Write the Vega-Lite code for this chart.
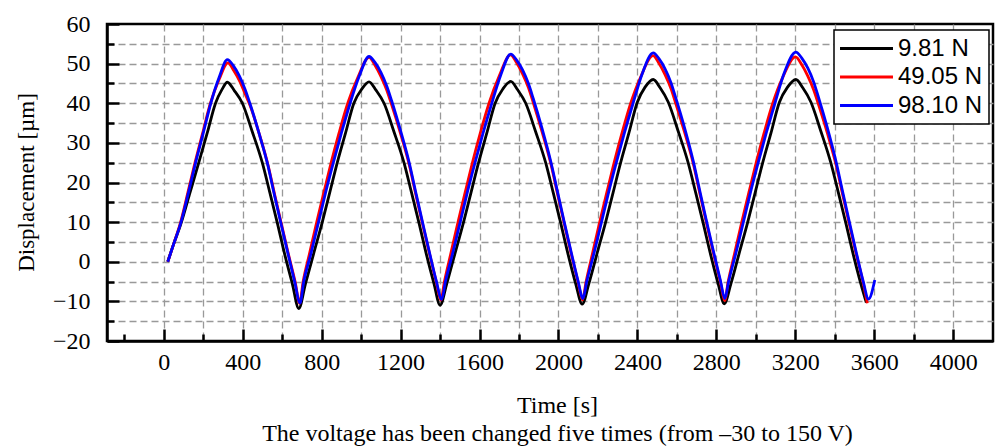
{
  "$schema": "https://vega.github.io/schema/vega-lite/v6.json",
  "width": 886,
  "height": 317,
  "autosize": {"type": "none"},
  "padding": {"left": 107, "top": 24, "right": 4, "bottom": 105},
  "background": "white",
  "config": {
    "view": {"stroke": "black", "strokeWidth": 2.5},
    "font": "Liberation Serif",
    "legend": {"strokeWidth": 1.5}
  },
  "data": {"values": [
    {"s":"9.81 N","t":20,"v":0},{"s":"9.81 N","t":50,"v":4.5},{"s":"9.81 N","t":86,"v":9.5},{"s":"9.81 N","t":130,"v":17},{"s":"9.81 N","t":177,"v":25},{"s":"9.81 N","t":220,"v":32.5},{"s":"9.81 N","t":262,"v":40},{"s":"9.81 N","t":295,"v":43.5},{"s":"9.81 N","t":322,"v":45.3},
    {"s":"9.81 N","t":357,"v":43.2},{"s":"9.81 N","t":398,"v":40},{"s":"9.81 N","t":447,"v":33},{"s":"9.81 N","t":499,"v":25},{"s":"9.81 N","t":537,"v":17.5},{"s":"9.81 N","t":575,"v":9.8},{"s":"9.81 N","t":612,"v":2},{"s":"9.81 N","t":651,"v":-5.5},{"s":"9.81 N","t":684,"v":-11.8},
    {"s":"9.81 N","t":718,"v":-5.5},{"s":"9.81 N","t":759,"v":2},{"s":"9.81 N","t":802,"v":9.8},{"s":"9.81 N","t":841,"v":17.5},{"s":"9.81 N","t":879,"v":25},{"s":"9.81 N","t":921,"v":32.5},{"s":"9.81 N","t":963,"v":40},{"s":"9.81 N","t":1002,"v":43.5},{"s":"9.81 N","t":1040,"v":45.4},
    {"s":"9.81 N","t":1075,"v":43.3},{"s":"9.81 N","t":1116,"v":40},{"s":"9.81 N","t":1165,"v":33},{"s":"9.81 N","t":1217,"v":25},{"s":"9.81 N","t":1255,"v":17.5},{"s":"9.81 N","t":1293,"v":9.8},{"s":"9.81 N","t":1330,"v":2},{"s":"9.81 N","t":1369,"v":-5.5},{"s":"9.81 N","t":1400,"v":-11},
    {"s":"9.81 N","t":1434,"v":-5.5},{"s":"9.81 N","t":1475,"v":2},{"s":"9.81 N","t":1518,"v":9.8},{"s":"9.81 N","t":1557,"v":17.5},{"s":"9.81 N","t":1595,"v":25},{"s":"9.81 N","t":1637,"v":32.5},{"s":"9.81 N","t":1679,"v":40},{"s":"9.81 N","t":1718,"v":43.6},{"s":"9.81 N","t":1758,"v":45.5},
    {"s":"9.81 N","t":1793,"v":43.4},{"s":"9.81 N","t":1834,"v":40},{"s":"9.81 N","t":1883,"v":33},{"s":"9.81 N","t":1935,"v":25},{"s":"9.81 N","t":1973,"v":17.5},{"s":"9.81 N","t":2011,"v":9.8},{"s":"9.81 N","t":2048,"v":2},{"s":"9.81 N","t":2087,"v":-5.5},{"s":"9.81 N","t":2120,"v":-10.7},
    {"s":"9.81 N","t":2154,"v":-5.5},{"s":"9.81 N","t":2195,"v":2},{"s":"9.81 N","t":2238,"v":9.8},{"s":"9.81 N","t":2277,"v":17.5},{"s":"9.81 N","t":2315,"v":25},{"s":"9.81 N","t":2357,"v":32.5},{"s":"9.81 N","t":2399,"v":40.2},{"s":"9.81 N","t":2438,"v":44},{"s":"9.81 N","t":2480,"v":46},
    {"s":"9.81 N","t":2515,"v":43.9},{"s":"9.81 N","t":2556,"v":40.3},{"s":"9.81 N","t":2605,"v":33.2},{"s":"9.81 N","t":2657,"v":25},{"s":"9.81 N","t":2695,"v":17.5},{"s":"9.81 N","t":2733,"v":9.8},{"s":"9.81 N","t":2770,"v":2},{"s":"9.81 N","t":2809,"v":-5.5},{"s":"9.81 N","t":2840,"v":-10.6},
    {"s":"9.81 N","t":2874,"v":-5.5},{"s":"9.81 N","t":2915,"v":2},{"s":"9.81 N","t":2958,"v":9.8},{"s":"9.81 N","t":2997,"v":17.5},{"s":"9.81 N","t":3035,"v":25},{"s":"9.81 N","t":3077,"v":32.5},{"s":"9.81 N","t":3119,"v":40.2},{"s":"9.81 N","t":3160,"v":44},{"s":"9.81 N","t":3203,"v":46},
    {"s":"9.81 N","t":3238,"v":43.9},{"s":"9.81 N","t":3279,"v":40.3},{"s":"9.81 N","t":3328,"v":33.2},{"s":"9.81 N","t":3380,"v":25},{"s":"9.81 N","t":3418,"v":17.5},{"s":"9.81 N","t":3456,"v":9.8},{"s":"9.81 N","t":3493,"v":2},{"s":"9.81 N","t":3532,"v":-5.5},{"s":"9.81 N","t":3560,"v":-10.3},

    {"s":"49.05 N","t":20,"v":0},{"s":"49.05 N","t":30,"v":1.5},{"s":"49.05 N","t":50,"v":4.5},{"s":"49.05 N","t":84,"v":9.8},{"s":"49.05 N","t":122,"v":17.5},{"s":"49.05 N","t":158,"v":25},{"s":"49.05 N","t":197,"v":32.5},{"s":"49.05 N","t":236,"v":40},{"s":"49.05 N","t":280,"v":46},{"s":"49.05 N","t":325,"v":50.2},
    {"s":"49.05 N","t":355,"v":48.2},{"s":"49.05 N","t":385,"v":45.5},{"s":"49.05 N","t":415,"v":42},{"s":"49.05 N","t":439,"v":39.2},{"s":"49.05 N","t":485,"v":32},{"s":"49.05 N","t":527,"v":24.6},{"s":"49.05 N","t":565,"v":16.2},{"s":"49.05 N","t":595,"v":9.7},{"s":"49.05 N","t":630,"v":2.2},{"s":"49.05 N","t":666,"v":-5.2},{"s":"49.05 N","t":688,"v":-10.5},
    {"s":"49.05 N","t":706,"v":-5},{"s":"49.05 N","t":738,"v":2},{"s":"49.05 N","t":774,"v":9.8},{"s":"49.05 N","t":811,"v":17.5},{"s":"49.05 N","t":848,"v":25},{"s":"49.05 N","t":888,"v":32.5},{"s":"49.05 N","t":932,"v":40},{"s":"49.05 N","t":983,"v":46.5},{"s":"49.05 N","t":1040,"v":51.6},
    {"s":"49.05 N","t":1070,"v":49.6},{"s":"49.05 N","t":1100,"v":46.8},{"s":"49.05 N","t":1130,"v":43.3},{"s":"49.05 N","t":1154,"v":39.7},{"s":"49.05 N","t":1200,"v":32.3},{"s":"49.05 N","t":1242,"v":24.8},{"s":"49.05 N","t":1280,"v":16.3},{"s":"49.05 N","t":1310,"v":9.8},{"s":"49.05 N","t":1345,"v":2.3},{"s":"49.05 N","t":1381,"v":-5.2},{"s":"49.05 N","t":1404,"v":-9.7},
    {"s":"49.05 N","t":1422,"v":-5},{"s":"49.05 N","t":1454,"v":2},{"s":"49.05 N","t":1490,"v":9.8},{"s":"49.05 N","t":1527,"v":17.5},{"s":"49.05 N","t":1564,"v":25},{"s":"49.05 N","t":1604,"v":32.5},{"s":"49.05 N","t":1648,"v":40},{"s":"49.05 N","t":1699,"v":46.8},{"s":"49.05 N","t":1757,"v":52.2},
    {"s":"49.05 N","t":1788,"v":50.2},{"s":"49.05 N","t":1818,"v":47.4},{"s":"49.05 N","t":1848,"v":43.9},{"s":"49.05 N","t":1872,"v":40.2},{"s":"49.05 N","t":1918,"v":32.6},{"s":"49.05 N","t":1960,"v":25},{"s":"49.05 N","t":1998,"v":16.5},{"s":"49.05 N","t":2028,"v":9.9},{"s":"49.05 N","t":2063,"v":2.3},{"s":"49.05 N","t":2099,"v":-5.1},{"s":"49.05 N","t":2122,"v":-9.6},
    {"s":"49.05 N","t":2140,"v":-5},{"s":"49.05 N","t":2172,"v":2},{"s":"49.05 N","t":2208,"v":9.8},{"s":"49.05 N","t":2245,"v":17.5},{"s":"49.05 N","t":2282,"v":25},{"s":"49.05 N","t":2322,"v":32.5},{"s":"49.05 N","t":2366,"v":40},{"s":"49.05 N","t":2417,"v":46.7},{"s":"49.05 N","t":2479,"v":52},
    {"s":"49.05 N","t":2510,"v":50},{"s":"49.05 N","t":2540,"v":47.2},{"s":"49.05 N","t":2570,"v":43.7},{"s":"49.05 N","t":2594,"v":40},{"s":"49.05 N","t":2640,"v":32.5},{"s":"49.05 N","t":2682,"v":25},{"s":"49.05 N","t":2720,"v":16.4},{"s":"49.05 N","t":2750,"v":9.8},{"s":"49.05 N","t":2785,"v":2.2},{"s":"49.05 N","t":2821,"v":-5.2},{"s":"49.05 N","t":2842,"v":-9.8},
    {"s":"49.05 N","t":2860,"v":-5},{"s":"49.05 N","t":2892,"v":2},{"s":"49.05 N","t":2928,"v":9.8},{"s":"49.05 N","t":2965,"v":17.5},{"s":"49.05 N","t":3002,"v":25},{"s":"49.05 N","t":3042,"v":32.5},{"s":"49.05 N","t":3086,"v":40},{"s":"49.05 N","t":3137,"v":46.6},{"s":"49.05 N","t":3201,"v":51.7},
    {"s":"49.05 N","t":3233,"v":49.7},{"s":"49.05 N","t":3263,"v":46.9},{"s":"49.05 N","t":3293,"v":43.4},{"s":"49.05 N","t":3317,"v":39.8},{"s":"49.05 N","t":3363,"v":32.4},{"s":"49.05 N","t":3405,"v":24.8},{"s":"49.05 N","t":3443,"v":16.3},{"s":"49.05 N","t":3473,"v":9.7},{"s":"49.05 N","t":3508,"v":2.1},{"s":"49.05 N","t":3544,"v":-5.3},{"s":"49.05 N","t":3565,"v":-10.5},

    {"s":"98.10 N","t":20,"v":0},{"s":"98.10 N","t":30,"v":1.5},{"s":"98.10 N","t":50,"v":4.5},{"s":"98.10 N","t":86,"v":9.8},{"s":"98.10 N","t":125,"v":17.5},{"s":"98.10 N","t":161,"v":25},{"s":"98.10 N","t":200,"v":32.5},{"s":"98.10 N","t":238,"v":40},{"s":"98.10 N","t":280,"v":46.5},{"s":"98.10 N","t":322,"v":51},
    {"s":"98.10 N","t":352,"v":49.5},{"s":"98.10 N","t":382,"v":47},{"s":"98.10 N","t":412,"v":43.5},{"s":"98.10 N","t":436,"v":40},{"s":"98.10 N","t":482,"v":32.5},{"s":"98.10 N","t":524,"v":25},{"s":"98.10 N","t":562,"v":16.5},{"s":"98.10 N","t":592,"v":10},{"s":"98.10 N","t":627,"v":2.5},{"s":"98.10 N","t":663,"v":-5},{"s":"98.10 N","t":690,"v":-10.4},
    {"s":"98.10 N","t":709,"v":-5},{"s":"98.10 N","t":745,"v":2},{"s":"98.10 N","t":783,"v":9.8},{"s":"98.10 N","t":820,"v":17.5},{"s":"98.10 N","t":859,"v":25},{"s":"98.10 N","t":900,"v":32.5},{"s":"98.10 N","t":944,"v":40},{"s":"98.10 N","t":990,"v":46.8},{"s":"98.10 N","t":1040,"v":51.8},
    {"s":"98.10 N","t":1070,"v":50.3},{"s":"98.10 N","t":1100,"v":47.8},{"s":"98.10 N","t":1130,"v":44.3},{"s":"98.10 N","t":1154,"v":40.7},{"s":"98.10 N","t":1200,"v":33},{"s":"98.10 N","t":1242,"v":25.3},{"s":"98.10 N","t":1280,"v":16.8},{"s":"98.10 N","t":1310,"v":10.2},{"s":"98.10 N","t":1345,"v":2.6},{"s":"98.10 N","t":1381,"v":-4.9},{"s":"98.10 N","t":1408,"v":-9.5},
    {"s":"98.10 N","t":1427,"v":-5},{"s":"98.10 N","t":1463,"v":2},{"s":"98.10 N","t":1501,"v":9.8},{"s":"98.10 N","t":1538,"v":17.5},{"s":"98.10 N","t":1577,"v":25},{"s":"98.10 N","t":1618,"v":32.5},{"s":"98.10 N","t":1662,"v":40},{"s":"98.10 N","t":1708,"v":47.2},{"s":"98.10 N","t":1758,"v":52.4},
    {"s":"98.10 N","t":1788,"v":50.9},{"s":"98.10 N","t":1818,"v":48.4},{"s":"98.10 N","t":1848,"v":44.9},{"s":"98.10 N","t":1872,"v":41.2},{"s":"98.10 N","t":1918,"v":33.4},{"s":"98.10 N","t":1960,"v":25.5},{"s":"98.10 N","t":1998,"v":17},{"s":"98.10 N","t":2028,"v":10.3},{"s":"98.10 N","t":2063,"v":2.7},{"s":"98.10 N","t":2099,"v":-4.8},{"s":"98.10 N","t":2124,"v":-9.3},
    {"s":"98.10 N","t":2143,"v":-5},{"s":"98.10 N","t":2179,"v":2},{"s":"98.10 N","t":2217,"v":9.8},{"s":"98.10 N","t":2254,"v":17.5},{"s":"98.10 N","t":2293,"v":25},{"s":"98.10 N","t":2334,"v":32.5},{"s":"98.10 N","t":2378,"v":40},{"s":"98.10 N","t":2424,"v":47.4},{"s":"98.10 N","t":2480,"v":52.7},
    {"s":"98.10 N","t":2510,"v":51.2},{"s":"98.10 N","t":2540,"v":48.7},{"s":"98.10 N","t":2570,"v":45.2},{"s":"98.10 N","t":2594,"v":41.4},{"s":"98.10 N","t":2640,"v":33.6},{"s":"98.10 N","t":2682,"v":25.6},{"s":"98.10 N","t":2720,"v":17},{"s":"98.10 N","t":2750,"v":10.3},{"s":"98.10 N","t":2785,"v":2.7},{"s":"98.10 N","t":2821,"v":-4.8},{"s":"98.10 N","t":2843,"v":-9.3},
    {"s":"98.10 N","t":2862,"v":-5},{"s":"98.10 N","t":2898,"v":2},{"s":"98.10 N","t":2936,"v":9.8},{"s":"98.10 N","t":2973,"v":17.5},{"s":"98.10 N","t":3012,"v":25},{"s":"98.10 N","t":3053,"v":32.5},{"s":"98.10 N","t":3097,"v":40},{"s":"98.10 N","t":3143,"v":47.5},{"s":"98.10 N","t":3203,"v":52.9},
    {"s":"98.10 N","t":3233,"v":51.4},{"s":"98.10 N","t":3263,"v":48.9},{"s":"98.10 N","t":3293,"v":45.4},{"s":"98.10 N","t":3317,"v":41.6},{"s":"98.10 N","t":3363,"v":33.7},{"s":"98.10 N","t":3405,"v":25.6},{"s":"98.10 N","t":3443,"v":17},{"s":"98.10 N","t":3473,"v":10.3},{"s":"98.10 N","t":3508,"v":2.6},{"s":"98.10 N","t":3544,"v":-4.9},{"s":"98.10 N","t":3571,"v":-9.4},{"s":"98.10 N","t":3603,"v":-4.6}
  ]},
  "mark": {"type": "line", "strokeWidth": 2.8, "clip": true, "interpolate": "monotone"},
  "encoding": {
    "x": {
      "field": "t", "type": "quantitative",
      "scale": {"domain": [-288, 4202], "nice": false, "zero": false},
      "axis": {
        "values": [-200,0,200,400,600,800,1000,1200,1400,1600,1800,2000,2200,2400,2600,2800,3000,3200,3400,3600,3800,4000],
        "format": "d",
        "labelExpr": "datum.value >= 0 && datum.value % 400 === 0 ? datum.label : ''",
        "labelFont": "Liberation Serif", "labelFontSize": 24, "labelColor": "black",
        "labelPadding": 21, "labelFlush": false, "labelOverlap": false,
        "tickSize": {"condition": {"test": "datum.value % 400 === 0", "value": -12}, "value": -7},
        "tickColor": "black", "tickWidth": 2.5,
        "domainColor": "black", "domainWidth": 2.5,
        "grid": true, "gridColor": "#999999", "gridDash": [7, 4], "gridWidth": 1.3,
        "gridOpacity": {"condition": {"test": "datum.value < 0", "value": 0}, "value": 1},
        "title": ["Time [s]", "The voltage has been changed five times (from –30 to 150 V)"],
        "titleFont": "Liberation Serif", "titleFontSize": 24, "titleFontWeight": "normal", "titleColor": "black",
        "titleX": 450, "titleY": 71, "titleBaseline": "alphabetic", "titleAlign": "center", "titleLineHeight": 28
      }
    },
    "y": {
      "field": "v", "type": "quantitative",
      "scale": {"domain": [-20, 60], "nice": false, "zero": false},
      "axis": {
        "values": [-20,-15,-10,-5,0,5,10,15,20,25,30,35,40,45,50,55,60],
        "labelExpr": "datum.value % 10 === 0 ? datum.label : ''",
        "labelFont": "Liberation Serif", "labelFontSize": 24, "labelColor": "black",
        "labelPadding": 29, "labelFlush": false, "labelOverlap": false,
        "tickSize": {"condition": {"test": "datum.value % 10 === 0", "value": -12}, "value": -7},
        "tickColor": "black", "tickWidth": 2.5,
        "domainColor": "black", "domainWidth": 2.5,
        "grid": true, "gridColor": "#999999", "gridDash": [7, 4], "gridWidth": 1.3,
        "gridOpacity": {"condition": {"test": "datum.value <= -20 || datum.value >= 60", "value": 0}, "value": 1},
        "title": "Displacement [µm]",
        "titleFont": "Liberation Serif", "titleFontSize": 23, "titleFontWeight": "normal", "titleColor": "black",
        "titleAngle": -90, "titleX": -81, "titleY": 158, "titleAlign": "center", "titleBaseline": "middle"
      }
    },
    "color": {
      "field": "s", "type": "nominal",
      "scale": {"domain": ["9.81 N", "49.05 N", "98.10 N"], "range": ["#000000", "#ff0000", "#0000ff"]},
      "legend": {
        "orient": "none", "legendX": 727, "legendY": 6,
        "title": null,
        "symbolType": "M-2.5,0H2.5", "symbolSize": 449, "symbolStrokeWidth": 3, "symbolOffset": 14,
        "labelFont": "Liberation Sans", "labelFontSize": 24, "labelColor": "black", "labelLimit": 0, "labelOffset": 19,
        "strokeColor": "black", "fillColor": "white", "padding": 6, "rowPadding": 3.5
      }
    }
  }
}
